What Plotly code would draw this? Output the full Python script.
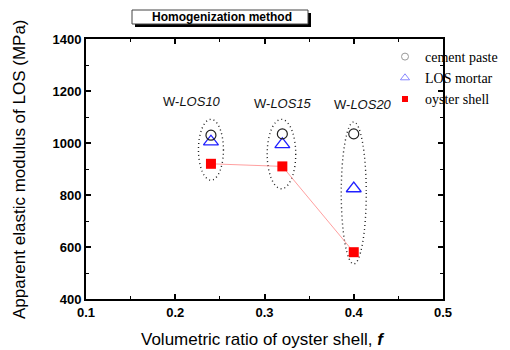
import plotly.graph_objects as go

# ---- data ----
f_values = [0.24, 0.32, 0.40]
group_labels = ["LOS10", "LOS15", "LOS20"]
cement_paste = [1030, 1035, 1035]
los_mortar = [1005, 995, 825]
oyster_shell = [920, 910, 580]
# dotted ellipse bounds around each group (x0, x1, y0, y1) in data units
ellipse_x0 = [0.226, 0.303, 0.386]
ellipse_x1 = [0.254, 0.335, 0.414]
ellipse_y0 = [857, 824, 535]
ellipse_y1 = [1091, 1091, 1081]
label_x = [0.219, 0.321, 0.410]
label_y = [1160, 1153, 1149]
x_ticks = [0.1, 0.2, 0.3, 0.4, 0.5]
y_ticks = [400, 600, 800, 1000, 1200, 1400]

# page body has an 8px margin; figure sized to fit the 510x350 window
OFF = 8
W, H = 510 - OFF, 350 - OFF
L, R, T, B = 86 - OFF, 510 - 443, 39 - OFF, 350 - 299
pw, ph = W - L - R, H - T - B

def px2paper_x(px):  # px in screen coordinates
    return (px - OFF - L) / pw

def px2paper_y(py):
    return (H - B - (py - OFF)) / ph

fig = go.Figure()

# connecting line for oyster shell
fig.add_trace(go.Scatter(x=f_values, y=oyster_shell, mode="lines",
                         line=dict(color="rgba(255,80,80,0.55)", width=1),
                         showlegend=False, hoverinfo="skip"))

fig.add_trace(go.Scatter(x=f_values, y=los_mortar, mode="markers",
                         marker=dict(symbol="triangle-up-open", size=13, color="#2020ff",
                                     line=dict(width=1.3, color="#2020ff")),
                         showlegend=False))
fig.add_trace(go.Scatter(x=f_values, y=cement_paste, mode="markers",
                         marker=dict(symbol="circle-open", size=10, color="#222",
                                     line=dict(width=1.2, color="#222")),
                         showlegend=False))
fig.add_trace(go.Scatter(x=f_values, y=oyster_shell, mode="markers",
                         marker=dict(symbol="square", size=10, color="#ff0000",
                                     line=dict(width=0)),
                         showlegend=False))

# legend-only entries (faded small markers as in the reference)
fig.add_trace(go.Scatter(x=[None], y=[None], mode="markers", name="cement paste",
                         marker=dict(symbol="circle-open", size=7, color="#999",
                                     line=dict(width=1, color="#999"))))
fig.add_trace(go.Scatter(x=[None], y=[None], mode="markers", name="LOS mortar",
                         marker=dict(symbol="triangle-up-open", size=8, color="#8888ff",
                                     line=dict(width=1, color="#8888ff"))))
fig.add_trace(go.Scatter(x=[None], y=[None], mode="markers", name="oyster shell",
                         marker=dict(symbol="square", size=6, color="#ff0000")))

shapes = []
for x0, x1, y0, y1 in zip(ellipse_x0, ellipse_x1, ellipse_y0, ellipse_y1):
    shapes.append(dict(type="circle", xref="x", yref="y", x0=x0, x1=x1, y0=y0, y1=y1,
                       line=dict(color="#222", width=1.4, dash="1px,3px"), layer="below"))

# title box with shadow (screen px)
bx0, bx1, by0, by1 = 132, 308, 10, 24
shapes.append(dict(type="rect", xref="paper", yref="paper",
                   x0=px2paper_x(bx0 + 3), x1=px2paper_x(bx1 + 3),
                   y0=px2paper_y(by1 + 3), y1=px2paper_y(by0 + 3),
                   fillcolor="black", line=dict(width=0)))
shapes.append(dict(type="rect", xref="paper", yref="paper",
                   x0=px2paper_x(bx0), x1=px2paper_x(bx1),
                   y0=px2paper_y(by1), y1=px2paper_y(by0),
                   fillcolor="white", line=dict(color="#444", width=1)))

annotations = []
for lx, ly, g in zip(label_x, label_y, group_labels):
    annotations.append(dict(x=lx, y=ly, xref="x", yref="y", showarrow=False,
                            text="W-<i>" + g + "</i>",
                            font=dict(family="Liberation Sans, Arial", size=13, color="#111")))
annotations.append(dict(x=px2paper_x((bx0 + bx1) / 2 + 2), y=px2paper_y((by0 + by1) / 2),
                        xref="paper", yref="paper", showarrow=False,
                        xanchor="center", yanchor="middle",
                        text="<b>Homogenization method</b>",
                        font=dict(family="Liberation Sans, Arial", size=12, color="black")))
# axis titles
annotations.append(dict(x=px2paper_x(263), y=px2paper_y(340), xref="paper", yref="paper",
                        showarrow=False, xanchor="center", yanchor="middle",
                        text="Volumetric ratio of oyster shell, <b><i>f</i></b>",
                        font=dict(family="Liberation Sans, Arial", size=17, color="black")))
annotations.append(dict(x=px2paper_x(19), y=px2paper_y(169), xref="paper", yref="paper",
                        showarrow=False, xanchor="center", yanchor="middle", textangle=-90,
                        text="Apparent elastic modulus of LOS (MPa)",
                        font=dict(family="Liberation Sans, Arial", size=17, color="black")))

tickfont = dict(family="Liberation Sans, Arial", size=13, color="black")

fig.update_layout(
    width=W, height=H,
    margin=dict(l=L, r=R, t=T, b=B, autoexpand=False),
    paper_bgcolor="white", plot_bgcolor="white",
    shapes=shapes, annotations=annotations,
    showlegend=True,
    legend=dict(x=px2paper_x(385), y=px2paper_y(41), xanchor="left", yanchor="top",
                bgcolor="rgba(0,0,0,0)", font=dict(family="Liberation Serif, Times New Roman",
                                                   size=14, color="black"),
                tracegroupgap=0, itemwidth=30),
    xaxis=dict(range=[0.1, 0.5], tickvals=x_ticks,
               ticktext=["<b>%g</b>" % v for v in x_ticks],
               ticks="inside", ticklen=5, tickwidth=1.5, tickcolor="black",
               minor=dict(dtick=0.05, ticks="inside", ticklen=3, tickwidth=1.2, tickcolor="black"),
               showline=True, linecolor="black", linewidth=1.8, mirror="ticks",
               showgrid=False, zeroline=False, tickfont=tickfont, automargin=False),
    yaxis=dict(range=[400, 1400], tickvals=y_ticks,
               ticktext=["<b>%d</b>" % v for v in y_ticks],
               ticks="inside", ticklen=5, tickwidth=1.5, tickcolor="black",
               minor=dict(dtick=100, ticks="inside", ticklen=3, tickwidth=1.2, tickcolor="black"),
               showline=True, linecolor="black", linewidth=1.8, mirror="ticks",
               showgrid=False, zeroline=False, tickfont=tickfont, automargin=False),
)

fig.write_html("out.html")
